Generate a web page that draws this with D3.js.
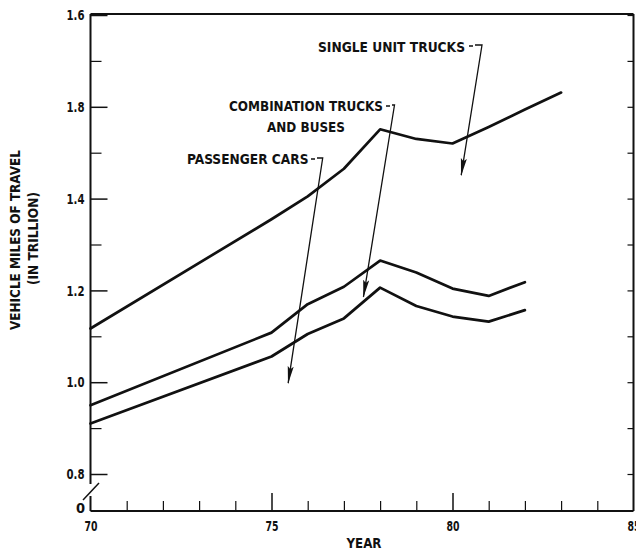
<!DOCTYPE html>
<html>
<head>
<meta charset="utf-8">
<script src="https://cdn.jsdelivr.net/npm/d3@7"></script>
<style>
  html, body { margin: 0; padding: 0; background: #fff; }
  svg { display: block; }
  text { font-family: 'Liberation Sans Narrow', 'DejaVu Sans Condensed', 'Roboto Condensed', sans-serif; font-weight: bold; fill: #111; }
</style>
</head>
<body>
<script>
// ---- data ----
const topYears     = [70, 75, 76, 77, 78, 79, 80, 81, 82, 83];
const topValues    = [1.117, 1.355, 1.405, 1.465, 1.551, 1.530, 1.520, 1.556, 1.594, 1.631];
const middleYears  = [70, 75, 76, 77, 78, 79, 80, 81, 82];
const middleValues = [0.950, 1.108, 1.170, 1.208, 1.265, 1.239, 1.204, 1.188, 1.218];
const bottomYears  = [70, 75, 76, 77, 78, 79, 80, 81, 82];
const bottomValues = [0.910, 1.056, 1.105, 1.139, 1.206, 1.166, 1.143, 1.132, 1.157];

const yTickValues = [0.8, 1.0, 1.2, 1.4, 1.6, 1.8];
const yTickLabels = ["0.8", "1.0", "1.2", "1.4", "1.8", "1.6"]; // as printed
const yMinorTicks = [0.9, 1.1, 1.3, 1.5, 1.7];
const xTickValues = [70, 75, 80, 85];
const xTickLabels = ["70", "75", "80", "85"];
const xMinorTicks = [71, 72, 73, 74, 76, 77, 78, 79, 81, 82, 83, 84];

const annotations = [
  { lines: ["SINGLE UNIT TRUCKS"], year: 80.24, value: 1.451 },
  { lines: ["COMBINATION TRUCKS", "AND BUSES"], year: 77.54, value: 1.186 },
  { lines: ["PASSENGER CARS"], year: 75.46, value: 0.998 }
];

// ---- layout ----
const W = 636, H = 550;
const svg = d3.select("body").append("svg").attr("width", W).attr("height", H);

const x = d3.scaleLinear().domain([70, 85]).range([90.5, 633.5]);
const y = d3.scaleLinear().domain([0.8, 1.8]).range([474, 15]);
const baseY = 511;

const defs = svg.append("defs");
defs.append("marker")
  .attr("id", "arrow").attr("viewBox", "0 0 18 7")
  .attr("refX", 17).attr("refY", 3.5)
  .attr("markerWidth", 18).attr("markerHeight", 7)
  .attr("markerUnits", "userSpaceOnUse").attr("orient", "auto")
  .append("path").attr("d", "M0,0.5 L18,3.5 L0,6.5 L3,3.5 Z").attr("fill", "#111");

// frame
const frame = svg.append("g").attr("stroke", "#111").attr("stroke-width", 2).attr("fill", "none");
frame.append("line").attr("x1", x(70)).attr("x2", x(85)).attr("y1", y(1.8) - 1).attr("y2", y(1.8) - 1);
frame.append("line").attr("x1", x(85)).attr("x2", x(85)).attr("y1", y(1.8) - 1).attr("y2", baseY);
frame.append("line").attr("x1", x(70)).attr("x2", x(85)).attr("y1", baseY).attr("y2", baseY);
frame.append("line").attr("x1", x(70)).attr("x2", x(70)).attr("y1", y(1.8) - 1).attr("y2", 484);
frame.append("line").attr("x1", x(70)).attr("x2", x(70)).attr("y1", 496).attr("y2", baseY);
// axis break slash
frame.append("line").attr("x1", 83).attr("y1", 500).attr("x2", 99).attr("y2", 483).attr("stroke-width", 1.5);

// y axis major ticks + labels
const yAxis = d3.axisLeft(y).tickValues(yTickValues)
  .tickFormat((d, i) => yTickLabels[i]).tickSize(-17).tickSizeOuter(0).tickPadding(6);
const gy = svg.append("g").attr("transform", `translate(${x(70)},0)`).call(yAxis);
gy.attr("font-family", null);
gy.select(".domain").remove();
gy.selectAll(".tick line").attr("stroke", "#111").attr("stroke-width", 1.5);
gy.selectAll(".tick text").attr("font-size", 14.5)
  .attr("textLength", 18).attr("lengthAdjust", "spacingAndGlyphs");

const yMinor = d3.axisLeft(y).tickValues(yMinorTicks).tickFormat("").tickSize(-11).tickSizeOuter(0);
const gym = svg.append("g").attr("transform", `translate(${x(70)},0)`).call(yMinor);
gym.select(".domain").remove();
gym.selectAll(".tick line").attr("stroke", "#111").attr("stroke-width", 1.2);

// right axis small ticks
const yRight = d3.axisRight(y).tickValues(yTickValues.concat(yMinorTicks)).tickFormat("").tickSize(-6).tickSizeOuter(0);
const gyr = svg.append("g").attr("transform", `translate(${x(85)},0)`).call(yRight);
gyr.select(".domain").remove();
gyr.selectAll(".tick line").attr("stroke", "#111").attr("stroke-width", 1.2);

// x axis
const xAxis = d3.axisBottom(x).tickValues(xTickValues)
  .tickFormat((d, i) => xTickLabels[i]).tickSize(-18).tickSizeOuter(0).tickPadding(10);
const gx = svg.append("g").attr("transform", `translate(0,${baseY})`).call(xAxis);
gx.select(".domain").remove();
gx.attr("font-family", null);
gx.selectAll(".tick line").attr("stroke", "#111").attr("stroke-width", 1.5)
  .attr("display", d => (d === 70 || d === 85) ? "none" : null);
gx.selectAll(".tick text").attr("font-size", 14.5)
  .attr("textLength", 13).attr("lengthAdjust", "spacingAndGlyphs");

const xMinor = d3.axisBottom(x).tickValues(xMinorTicks).tickFormat("").tickSize(-10).tickSizeOuter(0);
const gxm = svg.append("g").attr("transform", `translate(0,${baseY})`).call(xMinor);
gxm.select(".domain").remove();
gxm.selectAll(".tick line").attr("stroke", "#111").attr("stroke-width", 1.2);

// "0" at break
svg.append("text").attr("x", 85).attr("y", 513).attr("text-anchor", "end")
  .attr("font-size", 14.5).text("0");

// axis titles
svg.append("text").attr("x", (x(70) + x(85)) / 2 + 2).attr("y", 548)
  .attr("text-anchor", "middle").attr("font-size", 14.5)
  .attr("textLength", 35).attr("lengthAdjust", "spacingAndGlyphs").text("YEAR");
svg.append("text").attr("transform", "translate(20,240) rotate(-90)")
  .attr("text-anchor", "middle").attr("font-size", 14)
  .attr("textLength", 180).attr("lengthAdjust", "spacingAndGlyphs").text("VEHICLE MILES OF TRAVEL");
svg.append("text").attr("transform", "translate(38,238.5) rotate(-90)")
  .attr("text-anchor", "middle").attr("font-size", 14)
  .attr("textLength", 93).attr("lengthAdjust", "spacingAndGlyphs").text("(IN TRILLION)");

// data lines
const line = d3.line().x(d => x(d[0])).y(d => y(d[1]));
const series = [
  d3.zip(topYears, topValues),
  d3.zip(middleYears, middleValues),
  d3.zip(bottomYears, bottomValues)
];
svg.append("g").selectAll("path").data(series).join("path")
  .attr("d", line).attr("fill", "none").attr("stroke", "#111")
  .attr("stroke-width", 2.7).attr("stroke-linejoin", "round").attr("stroke-linecap", "round");

// annotations
const labelLayout = [
  { x: 318, baselines: [51.5], lengths: [147], anchor: "start", hook: [469, 45, 482, 45] },
  { x: 306, baselines: [110.7, 131.7], lengths: [154, 78], anchor: "middle", hook: [386, 105, 394.5, 105] },
  { x: 187, baselines: [164], lengths: [121.5], anchor: "start", hook: [311, 158, 322.7, 158] }
];
annotations.forEach((a, i) => {
  const L = labelLayout[i];
  a.lines.forEach((t, j) => {
    svg.append("text").attr("x", L.x).attr("y", L.baselines[j])
      .attr("text-anchor", L.anchor).attr("font-size", 14.5)
      .attr("textLength", L.lengths[j]).attr("lengthAdjust", "spacingAndGlyphs").text(t);
  });
  const [hx1, hy1, hx2, hy2] = L.hook;
  svg.append("path")
    .attr("d", `M${hx1},${hy1 + 1} L${hx1 + 4},${hy1 + 1} M${hx1 + 6},${hy2} L${hx2},${hy2} L${x(a.year)},${y(a.value)}`)
    .attr("fill", "none").attr("stroke", "#111").attr("stroke-width", 1.3)
    .attr("marker-end", "url(#arrow)");
});
</script>
</body>
</html>
